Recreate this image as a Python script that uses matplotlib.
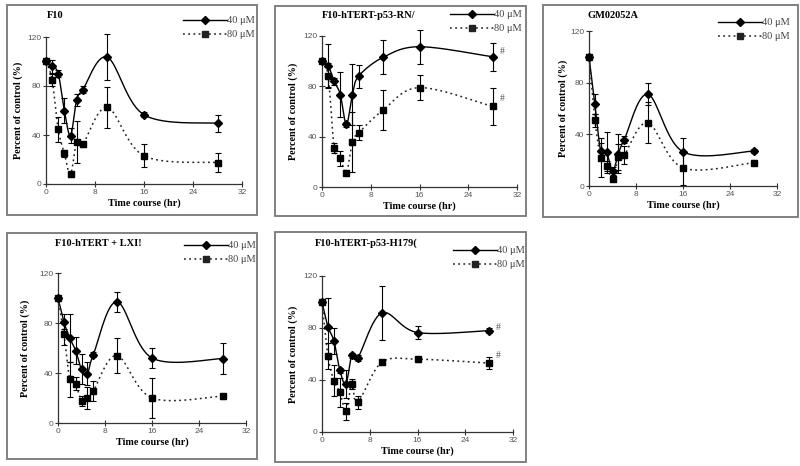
import numpy as np
import matplotlib
matplotlib.use("Agg")
import matplotlib.pyplot as plt
from matplotlib.patches import Rectangle
from matplotlib.lines import Line2D

# ---------------- data ----------------
times = [0, 1, 2, 3, 4, 5, 6, 10, 16, 28]

titles = ["F10", "F10-hTERT-p53-RN/", "GM02052A", "F10-hTERT + LXI!", "F10-hTERT-p53-H179("]

f10_40 = [100, 96, 90, 60, 39.5, 68.5, 77, 103.5, 56.5, 49.5]
f10_40_err = [0, 5, 3, 10, 6, 5, 3, 19, 2, 7]
f10_80 = [100, 85, 44.5, 25, 8, 34.5, 32.5, 62.5, 23, 17.5]
f10_80_err = [0, 5, 10, 3, 2, 17, 2, 16.5, 9.5, 8]

rnai_40 = [100, 96.5, 84, 73.5, 50, 73.5, 88, 103, 111.5, 103.5]
rnai_40_err = [0, 17, 3, 17.5, 2, 24, 9, 13.5, 13.5, 11]
rnai_80 = [100, 88.5, 31, 23, 11.5, 36, 43, 61, 79, 64]
rnai_80_err = [0, 10, 4, 6, 2, 24, 6, 16, 10, 15]

gm_40 = [100, 63.5, 27, 26, 11.5, 25, 36, 71, 26.5, 27]
gm_40_err = [0, 8, 6, 16, 3, 15, 3, 8.5, 11, 1.5]
gm_80 = [100, 51, 22, 15.5, 5.5, 22.5, 24, 49, 14, 18]
gm_80_err = [0, 5, 15, 4, 2, 10, 7, 16, 13, 2]

lx_40 = [100, 81, 68, 58, 43, 39.5, 54.5, 97, 52, 51.5]
lx_40_err = [0, 6, 19, 11, 12, 9, 2, 8, 8, 12.5]
lx_80 = [100, 71.5, 35, 31.5, 17.5, 20, 25.5, 54, 20, 21.5]
lx_80_err = [0, 9, 14, 5, 4, 9, 8, 14, 16, 2]

h179_40 = [100, 81, 70, 47.5, 37, 59, 57, 91.5, 76.5, 78]
h179_40_err = [0, 22, 10, 2, 11, 2, 2, 21, 5, 2]
h179_80 = [100, 58.5, 39.5, 30.5, 16, 37, 23, 53.5, 56, 53]
h179_80_err = [0, 10, 12, 11, 6.5, 4, 5, 2, 2, 4.5]

hash_40 = {1: 108, 4: 80.5}
hash_80 = {1: 70, 4: 58.5}

series = [
    (f10_40, f10_40_err, f10_80, f10_80_err),
    (rnai_40, rnai_40_err, rnai_80, rnai_80_err),
    (gm_40, gm_40_err, gm_80, gm_80_err),
    (lx_40, lx_40_err, lx_80, lx_80_err),
    (h179_40, h179_40_err, h179_80, h179_80_err),
]

x_ticks = [0, 8, 16, 24, 32]
y_ticks = [0, 40, 80, 120]
labels = ["40 μM", "80 μM"]

# ---------------- layout (pixels) ----------------
W, H = 800, 466
axes_px = [(46, 242, 184, 37), (322, 517, 187, 36), (589, 777, 186, 31),
           (58, 246, 423, 273), (322, 513, 432, 276)]
frames_px = [(7, 257, 5, 215), (275, 526, 6, 216), (543, 798, 5, 217),
             (7, 257, 233, 459), (275, 526, 232, 462)]
title_px = [(47, 15), (322, 16), (587, 15), (55, 243), (315, 243)]
legend_px = [(257, 14), (524, 8), (792, 16), (258, 239), (527, 244)]
ylab_off = [28, 29, 26, 33, 29]

SERIF = "Liberation Serif"
SANS = "Liberation Sans"


def smooth(x, y, n=20):
    x = np.asarray(x, float)
    y = np.asarray(y, float)
    P = np.column_stack([x, y])
    out = [P[0]]
    m = len(P)
    for i in range(m - 1):
        p0 = P[i - 1] if i > 0 else P[i]
        p1 = P[i]
        p2 = P[i + 1]
        p3 = P[i + 2] if i + 2 < m else P[i + 1]
        c1 = p1 + (p2 - p0) / 6.0
        c2 = p2 - (p3 - p1) / 6.0
        t = np.linspace(0, 1, n)[1:, None]
        seg = ((1 - t) ** 3) * p1 + 3 * ((1 - t) ** 2) * t * c1 + 3 * (1 - t) * t ** 2 * c2 + t ** 3 * p2
        out.extend(seg)
    out = np.array(out)
    return out[:, 0], out[:, 1]


fig = plt.figure(figsize=(W / 100, H / 100), dpi=100)
fig.patch.set_facecolor("white")

for k in range(5):
    l, r, t, b = frames_px[k]
    fig.patches.append(Rectangle((l / W, 1 - b / H), (r - l) / W, (b - t) / H,
                                 transform=fig.transFigure, fill=False,
                                 edgecolor="#777777", linewidth=1.3))

for k in range(5):
    x0, x32, y0, y120 = axes_px[k]
    ax = fig.add_axes([x0 / W, 1 - y0 / H, (x32 - x0) / W, (y0 - y120) / H])
    ax.set_facecolor("none")
    v40, e40, v80, e80 = series[k]

    sx, sy = smooth(times, v40)
    ax.plot(sx, sy, color="black", lw=1.0, ls="-", clip_on=False)
    sx, sy = smooth(times, v80)
    ax.plot(sx, sy, color="#222222", lw=1.1, ls=(0, (1.2, 2.2)), clip_on=False)

    ax.errorbar(times, v40, yerr=e40, fmt="none", ecolor="black", elinewidth=0.8,
                capsize=2.5, capthick=0.8, clip_on=False)
    ax.errorbar(times, v80, yerr=e80, fmt="none", ecolor="black", elinewidth=0.8,
                capsize=2.5, capthick=0.8, clip_on=False)
    ax.plot(times, v40, ls="none", marker="D", ms=4, color="black", clip_on=False, zorder=5)
    ax.plot(times, v80, ls="none", marker="s", ms=5, color="black", clip_on=False, zorder=5)

    if k in hash_40:
        ax.text(29.2, hash_40[k], "#", fontsize=7, family=SERIF, color="#555555", va="center")
        ax.text(29.2, hash_80[k], "#", fontsize=7, family=SERIF, color="#555555", va="center")

    ax.set_xlim(0, 32)
    ax.set_ylim(0, 120)
    ax.set_xticks(x_ticks)
    ax.set_yticks(y_ticks)
    for s in ["top", "right"]:
        ax.spines[s].set_visible(False)
    for s in ["left", "bottom"]:
        ax.spines[s].set_color("#333333")
        ax.spines[s].set_linewidth(0.9)
    ax.tick_params(direction="inout", length=4, width=0.8, color="#333333",
                   labelsize=6, labelcolor="#555555", pad=1.5)
    for lab in ax.get_xticklabels() + ax.get_yticklabels():
        lab.set_family(SANS)

    axh = y0 - y120
    axw = x32 - x0
    ax.set_xlabel("Time course (hr)", fontsize=7.3, family=SERIF, fontweight="bold")
    ax.xaxis.set_label_coords(0.5, -14 / axh)
    ax.xaxis.label.set_va("top")
    ax.set_ylabel("Percent of control (%)", fontsize=7.3, family=SERIF, fontweight="bold")
    ax.yaxis.set_label_coords(-ylab_off[k] / axw, 0.5)
    ax.yaxis.label.set_va("center")

    tx, ty = title_px[k]
    fig.text(tx / W, 1 - ty / H, titles[k], fontsize=7.5, family=SERIF,
             fontweight="bold", va="center", ha="left")

    h1 = Line2D([], [], color="black", lw=1.0, marker="D", ms=4)
    h2 = Line2D([], [], color="#222222", lw=1.1, ls=(0, (1.2, 2.2)), marker="s", ms=5)
    lx, ly = legend_px[k]
    leg = ax.legend([h1, h2], labels, loc="upper right",
                    bbox_to_anchor=(lx / W, 1 - ly / H), bbox_transform=fig.transFigure,
                    frameon=False, handlelength=4.2, handletextpad=0.0,
                    labelspacing=0.45, borderpad=0.2, borderaxespad=0,
                    prop={"family": SERIF, "size": 7.5})
    for txt in leg.get_texts():
        txt.set_color("#444444")

fig.savefig("out.png", dpi=100, facecolor="white")
